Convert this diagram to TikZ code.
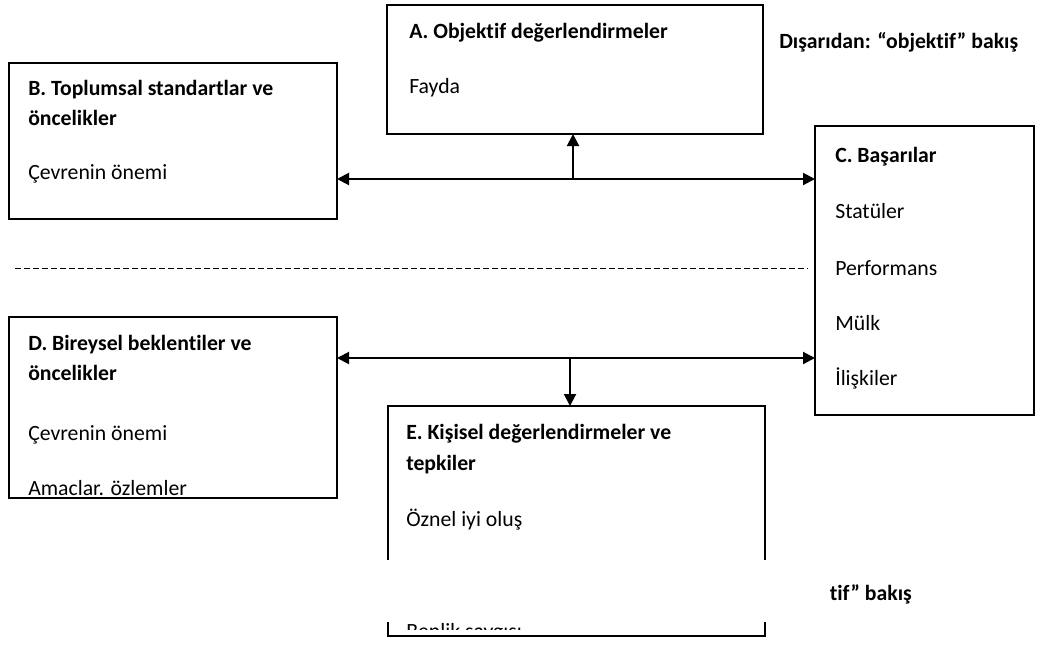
\documentclass[tikz,border=0pt]{standalone}
\usepackage{fontspec}
\setmainfont{Carlito}[Ligatures=NoCommon]
\usetikzlibrary{arrows.meta}
\begin{document}
\begin{tikzpicture}[x=0.75pt,y=-0.75pt,
  box/.style={draw,line width=1.5pt,rectangle,anchor=north west,inner sep=0pt,outer sep=0pt},
  lbl/.style={anchor=base west,inner sep=0pt,font=\fontsize{16.3}{19}\selectfont},
  ttl/.style={lbl,font=\fontsize{16.3}{19}\selectfont\bfseries},
  arr/.style={line width=1.5pt,-{Triangle[length=9pt,width=9pt]}},
  lw/.style={line width=1.5pt}]
\useasboundingbox[fill=white] (0,0) rectangle (1048,644);
% boxes
\node[box,minimum width={376*0.75pt},minimum height={129*0.75pt}] (A) at (387,5) {};
\node[box,minimum width={328*0.75pt},minimum height={156*0.75pt}] (B) at (9,63) {};
\node[box,minimum width={219*0.75pt},minimum height={289*0.75pt}] (C) at (815,126) {};
\node[box,minimum width={328*0.75pt},minimum height={181*0.75pt}] (D) at (9,317) {};
\node[box,draw=none,minimum width={377*0.75pt},minimum height={230*0.75pt}] (E) at (388,406) {};
\coordinate (e1) at (388,560);
\coordinate (e2) at (765,560);
\coordinate (e3) at (388,622);
\coordinate (e4) at (765,622);
\draw[lw] (e1) -- (E.north west) -- (E.north east) -- (e2);
\draw[lw] (e3) -- (E.south west) -- (E.south east) -- (e4);
% texts
\node[ttl] (At) at (409,38) {A. Objektif değerlendirmeler};
\node[lbl] (Af) at (409,93) {Fayda};
\node[ttl] (out) at (779,48) {Dışarıdan: “objektif” bakış};
\node[ttl] (Bt1) at (28,95) {B. Toplumsal standartlar ve};
\node[ttl] (Bt2) at (28,125) {öncelikler};
\node[lbl] (Bc) at (28,179) {Çevrenin önemi};
\node[ttl] (Ct) at (835,162) {C. Başarılar};
\node[lbl] (C1) at (835,218) {Statüler};
\node[lbl] (C2) at (835,275) {Performans};
\node[lbl] (C3) at (835,330) {Mülk};
\node[lbl] (C4) at (835,385) {İlişkiler};
\node[ttl] (Dt1) at (28,350) {D. Bireysel beklentiler ve};
\node[ttl] (Dt2) at (28,380) {öncelikler};
\node[lbl] (D1) at (28,440) {Çevrenin önemi};
\node[lbl] (D2) at (28,495) {Amaclar. özlemler};
\node[ttl] (Et1) at (406,439) {E. Kişisel değerlendirmeler ve};
\node[ttl] (Et2) at (406,470) {tepkiler};
\node[lbl] (E1) at (406,526) {Öznel iyi oluş};
\node[ttl,anchor=base east] (in) at (912,600) {tif” bakış};
\begin{scope}
\clip (392,619) rectangle (761,629.5);
\node[lbl] (E2) at (406,638) {Benlik saygısı};
\end{scope}
% dashed separator
\coordinate (s1) at (15,268);
\coordinate (s2) at (808,268);
\draw[line width=0.75pt,dash pattern=on 4.5pt off 2.25pt] (s1) -- (s2);
% arrows
\coordinate (m1) at (573,179);
\coordinate (m2) at (570,358);
\draw[arr] (m1) -- (m1 -| B.east);
\draw[arr] (m1) -- (m1 -| C.west);
\draw[arr] (m1) -- (m1 |- A.south);
\draw[arr] (m2) -- (m2 -| D.east);
\draw[arr] (m2) -- (m2 -| C.west);
\draw[arr] (m2) -- (m2 |- E.north);
\end{tikzpicture}
\end{document}
